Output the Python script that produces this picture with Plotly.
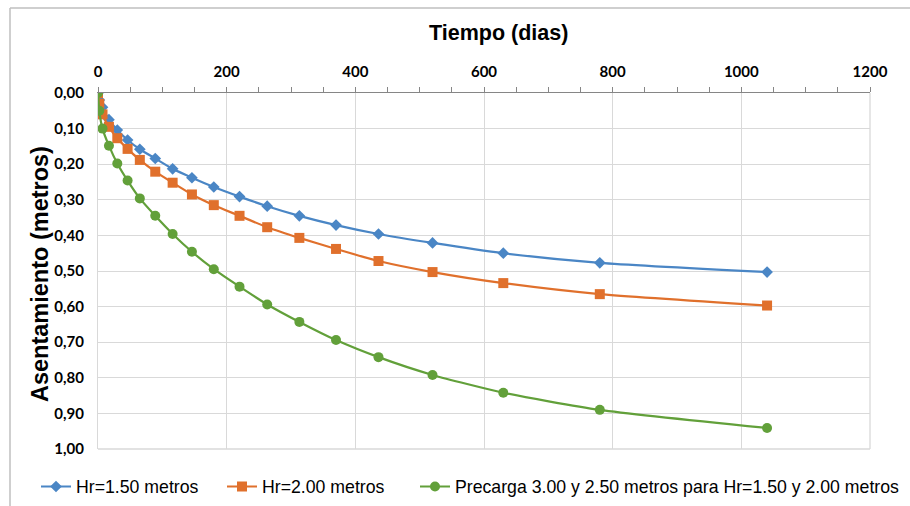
import plotly.graph_objects as go

tiempo = [0, 2, 7, 17, 30, 46, 65, 89, 116, 146, 180, 220, 263, 313, 370, 436, 520, 630, 780, 1040]
hr_150 = [0, 0.02, 0.04, 0.075, 0.104, 0.132, 0.158, 0.184, 0.213, 0.238, 0.264, 0.291, 0.318,
          0.345, 0.371, 0.396, 0.421, 0.450, 0.477, 0.503]
hr_200 = [0, 0.03, 0.06, 0.095, 0.127, 0.157, 0.188, 0.221, 0.252, 0.285, 0.315, 0.345, 0.377,
          0.407, 0.438, 0.472, 0.503, 0.534, 0.565, 0.597]
precarga = [0, 0.05, 0.10, 0.148, 0.198, 0.246, 0.296, 0.345, 0.396, 0.446, 0.495, 0.544, 0.594,
            0.643, 0.694, 0.742, 0.792, 0.842, 0.890, 0.941]

names = ["Hr=1.50 metros", "Hr=2.00 metros",
         "Precarga 3.00 y 2.50 metros para Hr=1.50 y 2.00 metros"]
colors = ["#4A86C5", "#E0702C", "#62A03A"]
symbols = ["diamond", "square", "circle"]
sizes = [9, 10, 10]
legend_ids = ["legend", "legend2", "legend3"]
legend_text_x = [76, 262, 455]

W, H = 910, 506
L, R, T, B = 98, 870, 93, 449

fig = go.Figure()
for vals, name, col, sym, sz, lg in zip([hr_150, hr_200, precarga], names, colors, symbols, sizes, legend_ids):
    fig.add_trace(go.Scatter(
        x=tiempo, y=vals, name=name, mode="lines+markers", legend=lg,
        line=dict(color=col, width=2.2, shape="spline", smoothing=0.6),
        marker=dict(symbol=sym, size=sz, color=col),
    ))

legend_font = dict(family="Liberation Sans Narrow, Arial Narrow, Liberation Sans", size=17.7, color="#000")
legend_layout = {}
for lg, tx in zip(legend_ids, legend_text_x):
    legend_layout[lg] = dict(orientation="h", xref="container", yref="container",
                             x=(tx - 40) / W, xanchor="left", y=1 - 487 / H, yanchor="middle",
                             font=legend_font, itemwidth=30, bgcolor="rgba(0,0,0,0)")

fig.update_layout(
    width=W, height=H,
    margin=dict(l=L, r=W - R, t=T, b=H - B, autoexpand=False),
    paper_bgcolor="white", plot_bgcolor="white",
    separators=",.",
    font=dict(family="Liberation Sans, Arial", color="#000000"),
    showlegend=True,
    **legend_layout,
    xaxis=dict(
        side="top", range=[0, 1200], dtick=200, tickformat="d",
        showgrid=True, gridcolor="#D9D9D9", gridwidth=1.3,
        showline=True, linecolor="#868686", linewidth=1.3,
        ticks="outside", ticklen=5, tickcolor="#868686",
        minor=dict(dtick=50, ticks="outside", ticklen=5, tickcolor="#868686", showgrid=False),
        tickfont=dict(family="Lato, Open Sans", size=15, color="#000"),
        ticklabelstandoff=4,
        zeroline=False, mirror=False,
    ),
    yaxis=dict(
        range=[1.0, 0.0], dtick=0.1, tickformat=".2f",
        showgrid=True, gridcolor="#D9D9D9", gridwidth=1.3,
        showline=True, linecolor="#D9D9D9", linewidth=1.3,
        ticks="", zeroline=False, ticklabelstandoff=10,
        tickfont=dict(family="Lato, Open Sans", size=15, color="#000"),
    ),
    annotations=[
        dict(text="<b>Tiempo (dias)</b>", xref="paper", yref="paper",
             x=(499 - L) / (R - L), y=(B - 33) / (B - T), xanchor="center", yanchor="middle",
             showarrow=False, font=dict(family="Liberation Sans, Arial", size=21.5, color="#000")),
        dict(text="<b>Asentamiento (metros)</b>", xref="paper", yref="paper", textangle=-90,
             x=(40 - L) / (R - L), y=(B - 274) / (B - T), xanchor="center", yanchor="middle",
             showarrow=False, font=dict(family="Liberation Sans, Arial", size=23.5, color="#000")),
    ],
    shapes=[
        dict(type="line", xref="paper", yref="paper", x0=1, x1=1, y0=0, y1=1,
             line=dict(color="#D9D9D9", width=1.3)),
        dict(type="line", xref="paper", yref="paper", x0=0, x1=1, y0=0, y1=0,
             line=dict(color="#D9D9D9", width=1.3)),
        # outer chart frame (left and top edges)
        dict(type="line", xref="paper", yref="paper",
             x0=(10 - L) / (R - L), x1=(10 - L) / (R - L),
             y0=(B - 506) / (B - T), y1=(B - 8) / (B - T),
             line=dict(color="#BFBFBF", width=1.5)),
        dict(type="line", xref="paper", yref="paper",
             x0=(10 - L) / (R - L), x1=(912 - L) / (R - L),
             y0=(B - 8) / (B - T), y1=(B - 8) / (B - T),
             line=dict(color="#BFBFBF", width=1.5)),
    ],
)

# bold tick labels
fig.update_xaxes(tickprefix="<b>", ticksuffix="</b>")
fig.update_yaxes(tickprefix="<b>", ticksuffix="</b>")

fig.write_html("out.html")
